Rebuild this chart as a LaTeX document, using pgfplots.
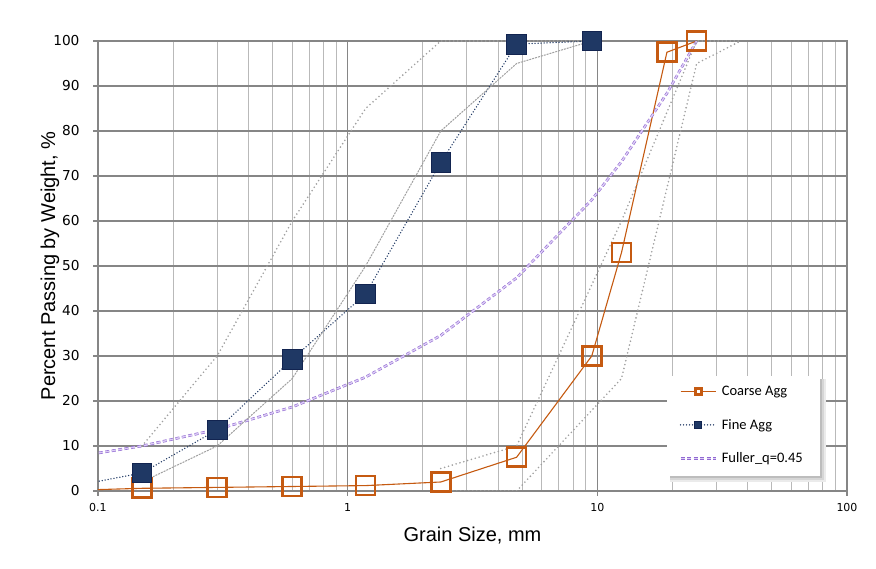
\documentclass[border=0pt]{standalone}
\usepackage{pgfplots}
\pgfplotsset{compat=1.18}
\usepackage{fontspec}
\setmainfont{Liberation Sans}
\newfontfamily\dejavu{DejaVu Sans}
\newfontfamily\carlito{Carlito}

\definecolor{coarse}{RGB}{197,90,17}
\definecolor{fine}{RGB}{31,56,100}
\definecolor{finedark}{RGB}{18,36,80}
\definecolor{fullerdraw}{RGB}{145,105,210}
\definecolor{fullerfill}{RGB}{220,205,245}
\definecolor{gridmaj}{RGB}{134,134,134}
\definecolor{gridmin}{RGB}{185,185,185}
\definecolor{band}{RGB}{160,160,160}

\begin{document}
\begin{tikzpicture}
\useasboundingbox (0,0) rectangle (876pt,569pt);
\begin{axis}[
    at={(98pt,78pt)}, anchor=south west,
    scale only axis, width=749pt, height=450pt,
    xmode=log, log basis x=10,
    xmin=0.1, xmax=100, ymin=0, ymax=100,
    xtick={0.1,1,10,100}, xticklabels={0.1,1,10,100},
    minor xtick={0.2,0.3,0.4,0.5,0.6,0.7,0.8,0.9,2,3,4,5,6,7,8,9,20,30,40,50,60,70,80,90},
    ytick={0,10,...,100},
    grid=both,
    major grid style={draw=gridmaj, line width=1.3pt},
    minor grid style={draw=gridmin, line width=0.9pt},
    axis line style={draw=gridmaj, line width=1.3pt},
    tick align=outside, xtick pos=left, ytick pos=left,
    major tick length=5pt, minor tick length=0pt,
    tick style={draw=gridmaj, line width=1.2pt},
    xticklabel style={font=\dejavu\fontsize{11}{12}\selectfont, yshift=-4pt},
    yticklabel style={font=\dejavu\fontsize{13.7}{15}\selectfont, xshift=-10pt},
    /pgf/number format/assume math mode=true,
    xlabel={Grain Size, mm},
    ylabel={Percent Passing by Weight, \%},
    label style={font=\fontsize{20}{22}\selectfont},
    xlabel style={at={(axis description cs:0.5,-0.1127)}, anchor=base},
    ylabel style={at={(axis description cs:-0.0574,0.5)}, anchor=base},
    legend image code/.code={
        \draw[mark repeat=2,mark phase=2] plot coordinates {(0pt,0pt) (17.5pt,0pt) (35pt,0pt)};
    },
    legend cell align=left,
    legend style={at={(0.7597,0.2556)}, anchor=north west,
        draw=none, fill=none,
        font=\carlito\fontsize{14.5}{16}\selectfont,
        inner xsep=12pt, inner ysep=8pt, row sep=18pt,
        /tikz/every odd column/.append style={column sep=3pt}},
]

% Coarse Agg
\addplot[coarse, line width=1.1pt, forget plot] coordinates {
    (0.075,0.1) (0.15,0.6) (0.3,0.8) (0.6,1.0) (1.18,1.2) (2.36,2.0)
    (4.75,7.5) (9.5,30) (12.5,53) (19,97.5) (25,100)
};
\addplot[only marks, mark=square, mark size=9.5pt,
    mark options={draw=coarse, line width=2.6pt, fill=none},
    legend image code/.code={
        \draw[coarse, line width=1.1pt] (0pt,0pt) -- (35pt,0pt);
        \draw[coarse, line width=3pt, fill=white, solid] (14.5pt,-3pt) rectangle (20.5pt,3pt);
    }] coordinates {
    (0.15,0.6) (0.3,0.8) (0.6,1.0) (1.18,1.2) (2.36,2.0)
    (4.75,7.5) (9.5,30) (12.5,53) (19,97.5) (25,100)
};
\addlegendentry{Coarse Agg}

% Fine Agg
\addplot[fine, line width=1.5pt, line cap=round, dash pattern=on 0pt off 3pt, forget plot] coordinates {
    (0.075,0.8) (0.15,4) (0.3,13.6) (0.6,29.3) (1.18,43.8) (2.36,73) (4.75,99.3) (9.5,100)
};
\addplot[only marks, mark=square*, mark size=9.8pt,
    mark options={draw=finedark, fill=fine, line width=0.8pt},
    legend image code/.code={
        \draw[fine, line width=1.5pt, line cap=round, dash pattern=on 0pt off 3pt] (0pt,0pt) -- (35pt,0pt);
        \draw[draw=finedark, fill=fine, line width=0.6pt, solid] (13.8pt,-3.8pt) rectangle (21.2pt,3.8pt);
    }] coordinates {
    (0.15,4) (0.3,13.6) (0.6,29.3) (1.18,43.8) (2.36,73) (4.75,99.3) (9.5,100)
};
\addlegendentry{Fine Agg}

% Fuller curve, q = 0.45
\addplot[fullerdraw, line width=0.6pt, double=fullerfill, double distance=1.4pt,
    dash pattern=on 4pt off 2.5pt] coordinates {
    (0.075,7.32) (0.15,10.0) (0.3,13.67) (0.6,18.67) (1.18,25.31) (2.36,34.57)
    (4.75,47.36) (9.5,64.70) (12.5,73.20) (19,88.38) (25,100)
};
\addlegendentry{Fuller\_q=0.45}

% grading limits, fine aggregate
\addplot[band, line width=1.8pt, line cap=round, dash pattern=on 0pt off 4pt, forget plot] coordinates {
    (0.15,10) (0.3,30) (0.6,60) (1.18,85) (2.36,100) (4.75,100) (9.5,100)
};
\addplot[band, line width=1pt, dash pattern=on 2pt off 1pt, forget plot] coordinates {
    (0.15,2) (0.3,10) (0.6,25) (1.18,50) (2.36,80) (4.75,95) (9.5,100)
};
% grading limits, coarse aggregate
\addplot[band, line width=1.8pt, line cap=round, dash pattern=on 0pt off 4pt, forget plot] coordinates {
    (2.36,5) (4.75,10) (12.5,60) (25,100) (37.5,100)
};
\addplot[band, line width=1.8pt, line cap=round, dash pattern=on 0pt off 4pt, forget plot] coordinates {
    (2.36,0) (4.75,0) (12.5,25) (25,95) (37.5,100)
};

% legend panel with a soft shadow
\fill[black!8] (rel axis cs:0.7637,0.0200) rectangle (rel axis cs:0.9720,0.2489);
\fill[black!16] (rel axis cs:0.7637,0.0244) rectangle (rel axis cs:0.9693,0.2489);
\fill[black!26] (rel axis cs:0.7637,0.0289) rectangle (rel axis cs:0.9667,0.2489);
\fill[white] (rel axis cs:0.7597,0.0333) rectangle (rel axis cs:0.9640,0.2556);
\end{axis}
\end{tikzpicture}
\end{document}
